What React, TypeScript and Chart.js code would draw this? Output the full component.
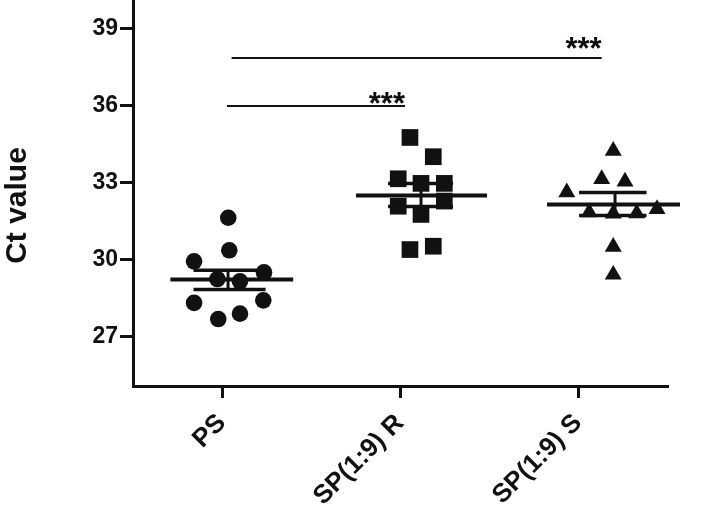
import React, { useEffect, useRef } from "react";
import { Chart, registerables } from "chart.js";
Chart.register(...registerables);

const categories = ["PS", "SP(1:9) R", "SP(1:9) S"];
const yTicks = [27, 30, 33, 36, 39];

const psValues = [31.64, 30.37, 29.94, 29.51, 29.25, 29.16, 28.32, 28.42, 27.69, 27.9];
const psJitter = [0.035, 0.041, -0.157, 0.236, -0.026, 0.101, -0.157, 0.232, -0.021, 0.101];
const rValues = [34.77, 34.02, 33.16, 32.98, 32.98, 32.29, 32.09, 31.77, 30.4, 30.53];
const rJitter = [0.056, 0.187, -0.01, 0.118, 0.249, 0.249, -0.01, 0.118, 0.056, 0.187];
const sValues = [34.25, 33.15, 33.05, 32.63, 31.85, 31.81, 31.98, 30.51, 29.42, 31.8];
const sJitter = [0.198, 0.133, 0.264, -0.063, 0.063, 0.33, 0.444, 0.198, 0.198, 0.198];

const means = [29.23, 32.51, 32.16];
const semUpper = [29.59, 32.98, 32.62];
const semLower = [28.84, 32.08, 31.73];
const meanFrom = [-0.29, -0.247, -0.174];
const meanTo = [0.4, 0.489, 0.573];
const semFrom = [-0.16, -0.067, 0.006];
const semTo = [0.245, 0.298, 0.385];
const semMid = [0.034, 0.118, 0.208];

const sigFrom = [0.028, 0.054];
const sigTo = [1.028, 2.133];
const sigY = [36.0, 37.87];
const sigStarY = [35.68, 37.83];
const sigLabel = ["***", "***"];

const FONT = "'Liberation Sans', Arial, Helvetica, sans-serif";
const INK = "#111111";

function seg(x1: number, y1: number, x2: number, y2: number, w: number) {
  return {
    type: "line" as const,
    data: [
      { x: x1, y: y1 },
      { x: x2, y: y2 },
    ],
    borderColor: INK,
    borderWidth: w,
    pointRadius: 0,
    showLine: true,
    fill: false,
    borderCapStyle: "butt" as const,
    clip: false as any,
  };
}

const starPlugin = {
  id: "stars",
  afterDatasetsDraw(chart: any) {
    const { ctx, scales } = chart;
    ctx.save();
    ctx.fillStyle = INK;
    ctx.font = `bold 31px ${FONT}`;
    ctx.textAlign = "right";
    ctx.textBaseline = "alphabetic";
    sigLabel.forEach((t, i) => {
      ctx.fillText(t, scales.x.getPixelForValue(sigTo[i]), scales.y.getPixelForValue(sigStarY[i]));
    });
    ctx.restore();
  },
};

export default function App() {
  const ref = useRef<HTMLCanvasElement>(null);
  useEffect(() => {
    if (!ref.current) return;
    const groups = [
      { v: psValues, j: psJitter, style: "circle", r: 8.3 },
      { v: rValues, j: rJitter, style: "rect", r: 11.8 },
      { v: sValues, j: sJitter, style: "triangle", r: 9.8 },
    ];
    const datasets: any[] = groups.map((g, gi) => ({
      type: "scatter",
      data: g.v.map((y, i) => ({ x: gi + g.j[i], y })),
      pointStyle: g.style,
      pointRadius: g.r,
      pointHoverRadius: g.r,
      backgroundColor: INK,
      borderColor: INK,
      borderWidth: 0,
      clip: false,
    }));
    categories.forEach((_, i) => {
      datasets.push(seg(i + meanFrom[i], means[i], i + meanTo[i], means[i], 4));
      datasets.push(seg(i + semFrom[i], semUpper[i], i + semTo[i], semUpper[i], 3.5));
      datasets.push(seg(i + semFrom[i], semLower[i], i + semTo[i], semLower[i], 3.5));
      datasets.push(seg(i + semMid[i], semLower[i], i + semMid[i], semUpper[i], 3));
    });
    sigLabel.forEach((_, i) => {
      datasets.push(seg(sigFrom[i], sigY[i], sigTo[i], sigY[i], 2));
    });

    const chart = new Chart(ref.current, {
      type: "scatter",
      data: { datasets },
      plugins: [starPlugin],
      options: {
        animation: false,
        responsive: true,
        maintainAspectRatio: false,
        layout: { autoPadding: false, padding: { top: 0, right: 48, bottom: 0, left: 0 } },
        plugins: { legend: { display: false }, tooltip: { enabled: false } },
        scales: {
          x: {
            type: "linear",
            min: -0.5,
            max: 2.5,
            afterBuildTicks: (s: any) => {
              s.ticks = categories.map((_, i) => ({ value: i }));
            },
            afterFit: (s: any) => {
              s.height = 132;
              s.paddingLeft = 0;
              s.paddingRight = 0;
            },
            grid: {
              drawOnChartArea: false,
              drawTicks: true,
              tickLength: 12,
              color: INK,
              lineWidth: 3,
            },
            border: { display: true, color: INK, width: 3 },
            ticks: {
              callback: (v: any) => categories[v as number] ?? "",
              minRotation: 45,
              maxRotation: 45,
              padding: 10,
              color: INK,
              font: { family: FONT, size: 26, weight: "bold" },
            },
          },
          y: {
            type: "linear",
            min: 25.08,
            max: 40.13,
            afterBuildTicks: (s: any) => {
              s.ticks = yTicks.map((v) => ({ value: v }));
            },
            afterFit: (s: any) => {
              s.width = 133;
              s.paddingTop = 0;
              s.paddingBottom = 0;
            },
            grid: {
              drawOnChartArea: false,
              drawTicks: true,
              tickLength: 13,
              color: INK,
              lineWidth: 3,
            },
            border: { display: true, color: INK, width: 3 },
            ticks: {
              padding: 2,
              color: INK,
              font: { family: FONT, size: 23, weight: "bold" },
            },
            title: {
              display: true,
              text: "Ct value   ",
              color: INK,
              padding: { top: 0, bottom: 0 },
              font: { family: FONT, size: 30, weight: "bold" },
            },
          },
        },
      } as any,
    });
    return () => chart.destroy();
  }, []);
  return (
    <div style={{ position: "fixed", left: 0, top: 0, width: 715, height: 518, background: "#fff" }}>
      <canvas ref={ref} />
    </div>
  );
}
